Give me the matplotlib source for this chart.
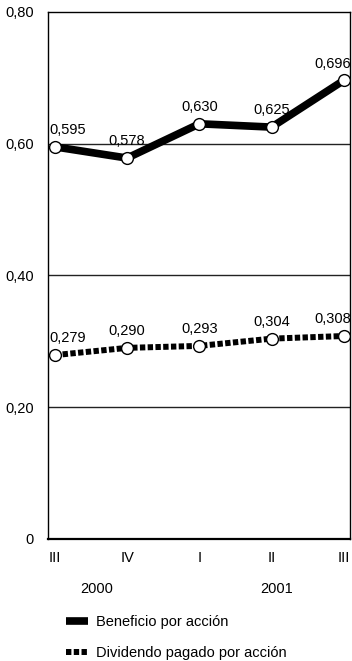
import matplotlib
matplotlib.use("Agg")
import matplotlib.pyplot as plt
from matplotlib.lines import Line2D

plt.rcParams["font.family"] = ["Liberation Sans Narrow", "Liberation Sans", "DejaVu Sans"]

quarters = ["III", "IV", "I", "II", "III"]
years = ["2000", "2001"]
beneficio = [0.595, 0.578, 0.630, 0.625, 0.696]
dividendo = [0.279, 0.290, 0.293, 0.304, 0.308]
y_ticks = [0, 0.20, 0.40, 0.60, 0.80]
y_tick_labels = ["0", "0,20", "0,40", "0,60", "0,80"]

fig = plt.figure(figsize=(3.52, 6.61), dpi=100)
ax = fig.add_axes([0.136, 0.1846, 0.858, 0.7976])

x = list(range(len(quarters)))
dotted = (0, (0.9, 0.4))

ax.plot(x, beneficio, color="black", lw=5.5, solid_capstyle="butt",
        marker="o", ms=8.5, mfc="white", mec="black", mew=1.0, zorder=3)
ax.plot(x, dividendo, color="black", lw=4.3, linestyle=dotted, dash_capstyle="butt",
        marker="o", ms=8.5, mfc="white", mec="black", mew=1.0, zorder=3)


def fmt(v):
    return f"{v:.3f}".replace(".", ",")


def label_points(values, dy):
    for i, v in enumerate(values):
        ha = "center"
        dx = 0
        if i == 0:
            dx = -4
            ha = "left"
        elif i == len(values) - 1:
            dx = 5
            ha = "right"
        ax.annotate(fmt(v), (i, v), xytext=(dx, dy), textcoords="offset points",
                    ha=ha, va="bottom", fontsize=10.5)


label_points(beneficio, 7)
label_points(dividendo, 7)

ax.set_xlim(-0.097, 4.083)
ax.set_ylim(0, 0.80)
ax.set_yticks(y_ticks)
ax.set_yticklabels(y_tick_labels)
ax.set_xticks(x)
ax.set_xticklabels(quarters)
ax.tick_params(axis="both", length=0, labelsize=10.5)
ax.tick_params(axis="y", pad=10)
ax.tick_params(axis="x", pad=9)

for yv in y_ticks[1:-1]:
    ax.axhline(yv, color="#222222", lw=1.0, zorder=1)

for side in ["left", "right", "top"]:
    ax.spines[side].set_linewidth(1.0)
ax.spines["bottom"].set_linewidth(1.6)

ax.text(0.58, -0.095, years[0], transform=ax.get_xaxis_transform(),
        ha="center", va="center", fontsize=10.5)
ax.text(3.07, -0.095, years[1], transform=ax.get_xaxis_transform(),
        ha="center", va="center", fontsize=10.5)

handles = [
    Line2D([], [], color="black", lw=5.5, solid_capstyle="butt"),
    Line2D([], [], color="black", lw=4.3, linestyle=dotted, dash_capstyle="butt"),
]
fig.legend(handles, ["Beneficio por acción", "Dividendo pagado por acción"],
           loc="upper left", bbox_to_anchor=(0.188, 0.069), frameon=False,
           fontsize=10.5, handlelength=1.5, handletextpad=0.55,
           labelspacing=1.15, borderpad=0, borderaxespad=0)

fig.savefig("out.png", dpi=100)
